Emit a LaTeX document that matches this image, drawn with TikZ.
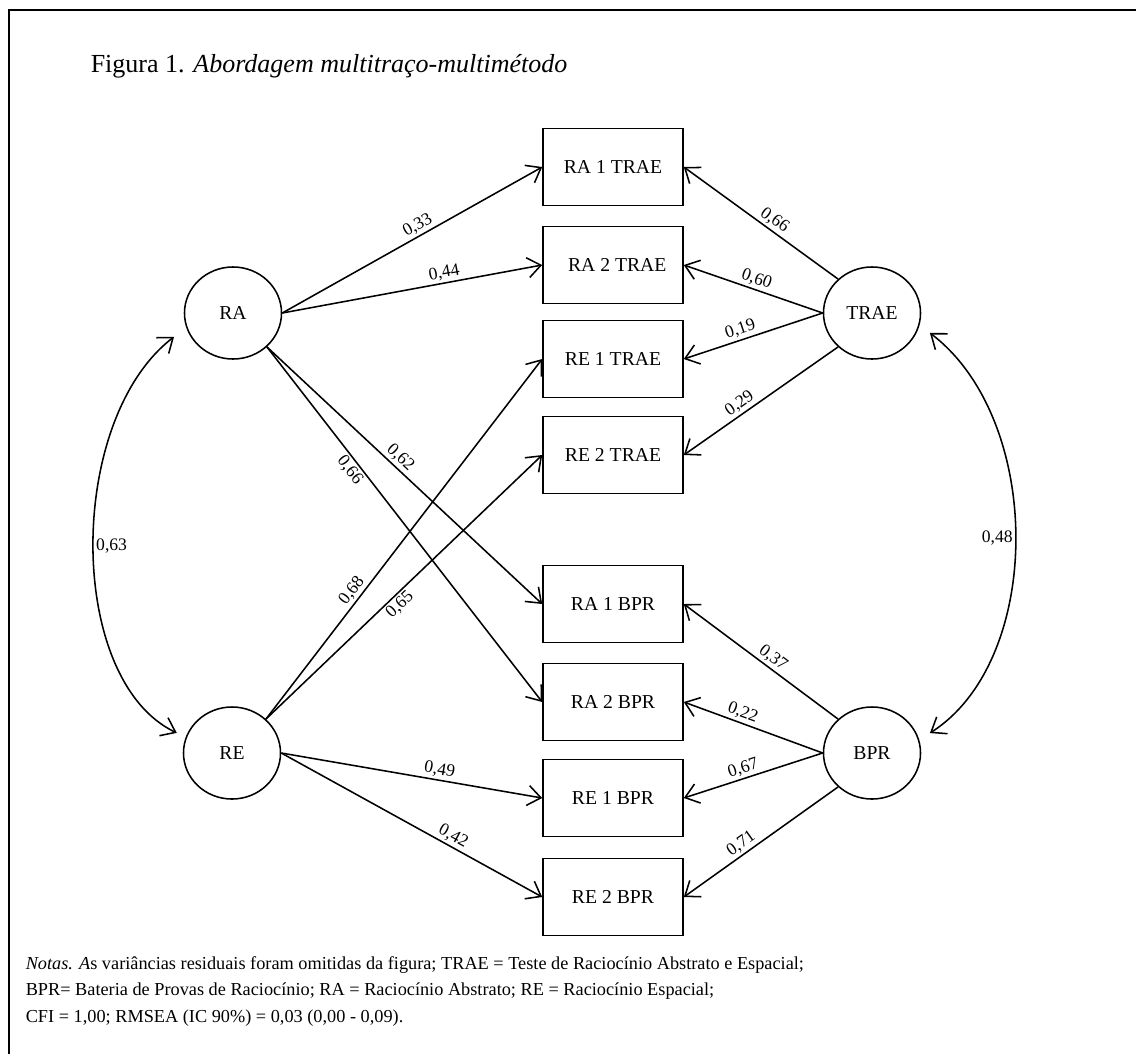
\documentclass[tikz,border=0pt]{standalone}
\usepackage{fontspec}
\setmainfont{Liberation Serif}
\usetikzlibrary{calc, arrows.meta, shapes.geometric}

\begin{document}
\begin{tikzpicture}[x=0.025cm, y=-0.025cm, line width=1.1pt,
  lat/.style={draw, ellipse, minimum width=2.425cm, minimum height=2.3cm, inner sep=0pt, font=\fontsize{14}{16}\selectfont},
  obs/.style={draw, rectangle, minimum width=3.5cm, minimum height=1.925cm, inner sep=0pt, font=\fontsize{14}{16}\selectfont},
  load/.style={-{Straight Barb[length=0.33cm, width=0.5cm]}},
  cov/.style={{Straight Barb[length=0.33cm, width=0.5cm]}-{Straight Barb[length=0.33cm, width=0.5cm]}},
  coef/.style={font=\fontsize{12.5}{14}\selectfont, sloped, inner sep=1.5pt}]
  % page 1136 x 1053 px, one unit = one pixel, y downwards
  \useasboundingbox (0,0) rectangle (1136,1053);
  \draw[line width=1.8pt] (9,1060) -- (9,10) -- (1140,10);
  \node[anchor=base west, inner sep=0pt, font=\fontsize{18.5}{22}\selectfont] (title) at (90,72)
    {Figura 1. \textit{Abordagem multitraço-multimétodo}};
  % latent traits and methods
  \node[lat] (RA) at (233,313) {RA};
  \node[lat] (TRAE) at (872,313) {TRAE};
  \node[lat] (RE) at (232,753) {RE};
  \node[lat] (BPR) at (872,753) {BPR};
  % observed scores
  \node[obs] (ra1t) at (613,167) {RA 1 TRAE};
  \node[obs] (ra2t) at (613,265) {\hspace{6pt}RA 2 TRAE};
  \node[obs] (re1t) at (613,359) {RE 1 TRAE};
  \node[obs] (re2t) at (613,455) {RE 2 TRAE};
  \node[obs] (ra1b) at (613,604) {RA 1 BPR};
  \node[obs] (ra2b) at (613,702) {RA 2 BPR};
  \node[obs] (re1b) at (613,798) {RE 1 BPR};
  \node[obs] (re2b) at (613,897) {RE 2 BPR};
  % trait loadings
  \draw[load] (RA.east) -- node[coef, above, pos=0.54] {0,33} (ra1t.west);
  \draw[load] (RA.east) -- node[coef, above, pos=0.63] {0,44} (ra2t.west);
  \draw[load] (RA.-45) -- node[coef, above, pos=0.46] {0,62} (ra1b.west);
  \draw[load] (RA.-45) -- node[coef, below, pos=0.33] {0,66} (ra2b.west);
  \draw[load] (RE.45) -- node[coef, above, pos=0.34] {0,68} (re1t.west);
  \draw[load] (RE.45) -- node[coef, below, pos=0.46] {0,65} (re2t.west);
  \draw[load] (RE.east) -- node[coef, above, pos=0.6] {0,49} (re1b.west);
  \draw[load] (RE.east) -- node[coef, above, pos=0.64] {0,42} (re2b.west);
  % method loadings
  \draw[load] (TRAE.135) -- node[coef, above, pos=0.45] {0,66} (ra1t.east);
  \draw[load] (TRAE.west) -- node[coef, above, pos=0.5] {0,60} (ra2t.east);
  \draw[load] (TRAE.west) -- node[coef, above, pos=0.57] {0,19} (re1t.east);
  \draw[load] (TRAE.225) -- node[coef, above, pos=0.6] {0,29} (re2t.east);
  \draw[load] (BPR.135) -- node[coef, above, pos=0.46] {0,37} (ra1b.east);
  \draw[load] (BPR.west) -- node[coef, above, pos=0.6] {0,22} (ra2b.east);
  \draw[load] (BPR.west) -- node[coef, above, pos=0.55] {0,67} (re1b.east);
  \draw[load] (BPR.225) -- node[coef, above, pos=0.59] {0,71} (re2b.east);
  % correlations
  \draw[cov] ($(RA)!1.3!(RA.202)$) .. controls (66,420) and (66,680)
    .. node[pos=0.5, right, font=\fontsize{12.5}{14}\selectfont, inner sep=1.5pt] {0,63} ($(RE)!1.2!(RE.160)$);
  \draw[cov] ($(TRAE)!1.25!(TRAE.-19)$) .. controls (1044,420) and (1044,660)
    .. node[pos=0.5, left, font=\fontsize{12.5}{14}\selectfont, inner sep=1.5pt] {0,48} ($(BPR)!1.25!(BPR.19)$);
  % notes
  \node[anchor=north west, inner sep=0pt, align=left, font=\fontsize{13}{18.7}\selectfont] (notes) at (25,956)
    {\textit{Notas. A}s variâncias residuais foram omitidas da figura; TRAE = Teste de Raciocínio Abstrato e Espacial;\\
     BPR= Bateria de Provas de Raciocínio; RA = Raciocínio Abstrato; RE = Raciocínio Espacial;\\
     CFI = 1,00; RMSEA (IC 90\%) = 0,03 (0,00 - 0,09).};
\end{tikzpicture}
\end{document}
